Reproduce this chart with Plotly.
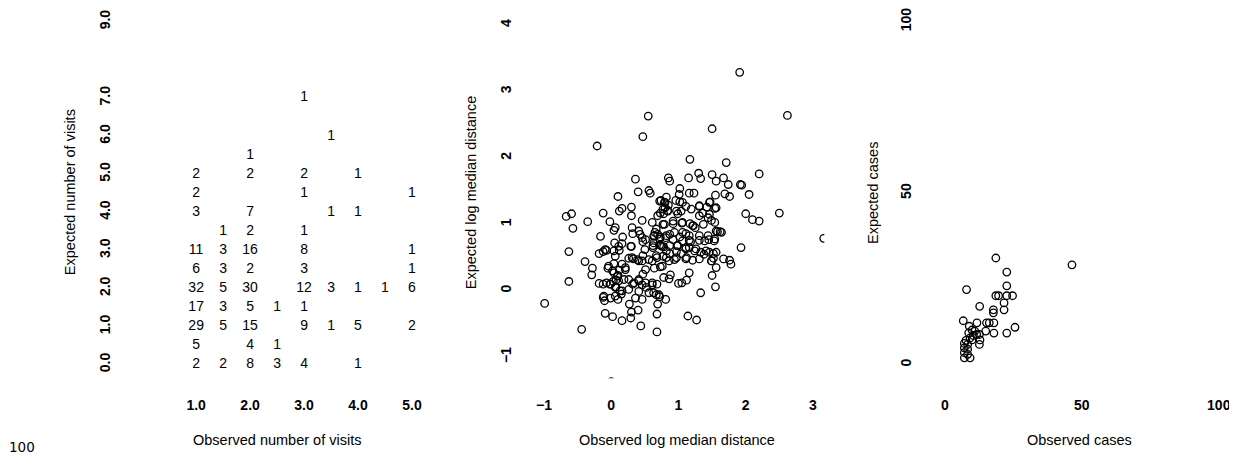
import plotly.graph_objects as go

# page is offset by the 8px body margin of the html page
OFF = 8
W, H = 1229, 454

# ---------------- Panel 1: counts of observed vs expected visits ----------------
visits_obs = [3, 3.5, 2,
              1, 2, 3, 4,
              1, 3, 5,
              1, 2, 3.5, 4,
              1.5, 2, 3,
              1, 1.5, 2, 3, 5,
              1, 1.5, 2, 3, 5,
              1, 1.5, 2, 3, 3.5, 4, 4.5, 5,
              1, 1.5, 2, 2.5, 3,
              1, 1.5, 2, 3, 3.5, 4, 5,
              1, 2, 2.5,
              1, 1.5, 2, 2.5, 3, 4]
visits_exp = [7.0, 6.0, 5.5,
              5.0, 5.0, 5.0, 5.0,
              4.5, 4.5, 4.5,
              4.0, 4.0, 4.0, 4.0,
              3.5, 3.5, 3.5,
              3.0, 3.0, 3.0, 3.0, 3.0,
              2.5, 2.5, 2.5, 2.5, 2.5,
              2.0, 2.0, 2.0, 2.0, 2.0, 2.0, 2.0, 2.0,
              1.5, 1.5, 1.5, 1.5, 1.5,
              1.0, 1.0, 1.0, 1.0, 1.0, 1.0, 1.0,
              0.5, 0.5, 0.5,
              0.0, 0.0, 0.0, 0.0, 0.0, 0.0]
visits_count = [1, 1, 1,
                2, 2, 2, 1,
                2, 1, 1,
                3, 7, 1, 1,
                1, 2, 1,
                11, 3, 16, 8, 1,
                6, 3, 2, 3, 1,
                32, 5, 30, 12, 3, 1, 1, 6,
                17, 3, 5, 1, 1,
                29, 5, 15, 9, 1, 5, 2,
                5, 4, 1,
                2, 2, 8, 3, 4, 1]
visits_xticks = [1, 2, 3, 4, 5]
visits_xlabels = ["1.0", "2.0", "3.0", "4.0", "5.0"]
visits_yticks = [0, 1, 2, 3, 4, 5, 6, 7, 9]
visits_ylabels = ["0.0", "1.0", "2.0", "3.0", "4.0", "5.0", "6.0", "7.0", "9.0"]

# ---------------- Panel 2: log median distance ----------------
dist_obs = [
    1.91, 2.62, 0.55, 1.50, 0.47, -0.21, 1.17, 1.71, 2.20, 1.30, 1.33, 1.50, 1.67, 1.56,
    1.74, 1.92, 1.94, 0.36, 0.85, 1.15, 2.05, 1.76, 1.69, -0.67, -0.59, -0.57, -0.35,
    2.00, 2.10, 2.20, 2.50, 1.62, 1.64, 3.16, 1.93, -0.63, -0.39, -0.63, -0.99, -0.09,
    0.02, 0.16, 0.29, 0.44, -0.44, 0.30, 0.40, 0.68, 0.69, 1.14, 1.27, 0.68, 1.67, 1.76,
    1.78, 1.56, 0.00,
    0.56, 0.58, 0.40, 0.10, 0.87, 1.02, 1.01, 1.16, 1.23, 1.55, 0.82, 0.74, 0.80, 0.85,
    0.80, 0.84, 0.96, 1.02, 1.11, 1.31, 1.42, 1.47, 1.54, 1.36, 1.46, 0.99, 1.04, 0.78,
    0.73, 0.16, 0.12, 0.30, 0.30, -0.12, -0.02, 0.04, 0.06, 0.17, -0.16, 0.46, 0.61,
    0.79, 0.92, 1.05, 1.17, 1.22, 1.25, 1.37, 1.58, 0.31, 0.32, 0.41, 0.43, 0.47, 0.51,
    0.65, 0.69, 0.73, 0.81, 0.87, 0.92, 1.02, 1.11, 1.06, 0.98, 1.16, 1.18, 1.31, 1.39,
    1.45, 1.53, 1.56, 1.49, 0.63, 0.62, 0.72, 0.78, 0.82, 0.87, 0.97, 1.04, 1.11, 1.16,
    1.24, 1.33, 1.38, 1.46, 1.52, 1.49, 1.52, 1.21, 1.12, 0.77, 0.86, 0.94, 0.73, 0.64,
    0.61, 0.50, 0.47, 0.41, 0.33, 0.26, 0.30, 0.16, 0.11, 0.05, 0.04, 0.12, 0.06, -0.07,
    -0.12, -0.18, -0.28, -0.29, -0.05, 0.02, 0.04, 0.16, 0.21, 0.12, 0.10, 0.07, 0.03,
    -0.02, -0.07, -0.12, -0.18, 0.07, 0.13, 0.15, 0.06, 0.10, -0.12, -0.10, 0.27, 0.32,
    0.41, 0.46, 0.52, 0.61, 0.63, 0.67, 0.72, 0.81, 0.78, 0.86, 0.88, 1.00, 1.05, 1.12,
    1.16, 1.33, 1.55, 1.50, 0.47, 0.51,
    0.21, 0.04, 0.09, 0.11, 0.19, 0.26, 0.34, 0.41, 0.51, 0.61, 0.68, 0.26, 0.16, 0.06,
    -0.01, -0.11, -0.01, 0.41, 0.56, 0.71, 0.36, 0.46, 0.31, 0.39, 0.46, 0.56, 0.68, 0.76,
    0.29, 0.46, 0.63, 0.76, -0.04, -0.09,
    0.72, 0.79, 0.77, 0.84, 0.69, 0.97, 1.06, 1.19, 1.31, 1.46, 1.56, 1.31, 1.44, 1.54,
    1.21, 1.06, 0.92, 0.77, 0.67, 0.64, 0.72, 0.82, 0.94, 1.06, 1.16, 1.31, 1.44, 1.54,
    0.62, 0.74, 0.87, 0.99, 1.11, 1.26, 1.41, 1.56, 0.67, 0.82, 0.97, 1.11, 1.31, 1.49]
dist_exp = [
    3.29, 2.64, 2.63, 2.44, 2.32, 2.18, 1.98, 1.93, 1.76, 1.77, 1.69, 1.75, 1.70, 1.65,
    1.60, 1.60, 1.59, 1.68, 1.70, 1.70, 1.45, 1.42, 1.46, 1.12, 1.16, 0.94, 1.04,
    1.16, 1.07, 1.05, 1.17, 0.89, 0.88, 0.79, 0.65, 0.59, 0.44, 0.14, -0.19, -0.34,
    -0.39, -0.45, -0.41, -0.53, -0.58, -0.32, -0.29, -0.35, -0.20, -0.38, -0.44, -0.62, 0.48, 0.46,
    0.40, 0.35, -1.37,
    1.51, 1.47, 1.49, 1.42, 1.65, 1.54, 1.45, 1.47, 1.47, 1.44, 1.41, 1.36, 1.33, 1.29,
    1.25, 1.21, 1.36, 1.34, 1.27, 1.27, 1.26, 1.34, 1.24, 1.17, 1.15, 1.16, 1.20, 1.16,
    1.17, 1.24, 1.20, 1.26, 1.13, 1.17, 1.04, 0.91, 0.95, 0.81, 0.82, 1.06, 1.03,
    1.00, 1.01, 1.02, 1.01, 0.98, 0.95, 1.00, 0.89, 0.95, 0.86, 0.90, 0.85, 0.74, 0.77,
    0.88, 0.85, 0.81, 0.80, 0.85, 0.77, 0.81, 0.86, 0.75, 0.68, 0.76, 0.74, 0.76, 0.75,
    0.77, 0.75, 0.90, 1.06, 0.72, 0.65, 0.69, 0.66, 0.60, 0.56, 0.59, 0.56, 0.63, 0.65,
    0.60, 0.58, 0.55, 0.58, 0.56, 0.45, 0.49, 0.46, 0.50, 0.52, 0.45, 0.47, 0.36, 0.34,
    0.45, 0.62, 0.53, 0.45, 0.48, 0.49, 0.67, 0.71, 0.67, 0.72, 0.60, 0.61, 0.52, 0.61,
    0.59, 0.56, 0.34, 0.24, 0.34, 0.30, 0.41, 0.40, 0.35, 0.31, 0.23, 0.16, 0.14,
    0.10, 0.12, 0.10, 0.11, 0.06, 0.00, -0.05, -0.08, -0.13, -0.10, -0.15, -0.20, 0.10,
    0.15, 0.09, 0.05, 0.09, -0.03, -0.06, -0.09, -0.13, 0.20, 0.18, 0.24, 0.11, 0.12, 0.16,
    0.27, -0.03, 0.06, 0.23, 0.25, 0.32,
    0.32, 0.27, 0.22, 0.15, 0.17, 0.17, 0.12, 0.17, 0.12, 0.12, 0.10, 0.02, 0.00, 0.05,
    0.10, -0.08, -0.11, -0.01, -0.03, -0.06, -0.11, -0.13, 0.50, 0.47, 0.45, 0.47, 0.50, 0.37,
    0.67, 0.80, 0.82, 0.67, 0.37, 0.62,
    1.35, 1.33, 1.23, 1.20, 1.13, 1.20, 1.33, 1.23, 1.28, 1.33, 1.25, 1.13, 1.10, 1.03,
    0.98, 1.03, 1.05, 1.00, 0.93, 0.83, 0.78, 0.83, 0.88, 0.88, 0.83, 0.83, 0.83, 0.78,
    0.68, 0.68, 0.68, 0.68, 0.65, 0.63, 0.60, 0.58, 0.53, 0.50, 0.50, 0.48, 0.48, 0.45]
dist_xticks = [-1, 0, 1, 2, 3]
dist_xlabels = ["\u22121", "0", "1", "2", "3"]
dist_yticks = [-1, 0, 1, 2, 3, 4]
dist_ylabels = ["\u22121", "0", "1", "2", "3", "4"]

# ---------------- Panel 3: cases ----------------
cases_obs = [18.6, 46.4, 22.6, 22.6, 7.9, 18.6, 19.6, 22.6, 24.7, 21.6, 21.6, 12.7, 17.7,
             17.7, 6.7, 11.7, 15.2, 16.2, 17.9, 25.6, 22.6, 17.9, 14.9, 8.9, 9.9, 10.9,
             11.6, 12.6, 12.8, 12.6, 9.9, 9.2, 8.7, 7.1, 7.1, 7.1, 7.1, 8.3, 8.3, 8.3,
             9.2, 7.7, 10.4]
cases_exp = [31.1, 29.1, 27.0, 23.0, 21.9, 20.1, 20.1, 20.1, 20.1, 18.0, 16.0, 17.0, 16.0,
             15.1, 12.8, 12.2, 12.2, 12.2, 12.2, 10.9, 9.2, 9.2, 9.8, 11.2, 10.1, 9.8,
             8.8, 8.8, 7.2, 5.9, 7.2, 7.8, 9.3, 6.2, 4.9, 3.5, 2.0, 5.9, 4.5, 3.0,
             2.0, 7.1, 8.5]
cases_ticks = [0, 50, 100]
cases_labels = ["0", "50", "100"]

FONT = "Liberation Sans, Arial, Helvetica, sans-serif"


def px_x(p):
    return (p - OFF) / W


def px_y(p):
    return (H - (p - OFF)) / H


# plot-area geometry in page pixels (left, right) ; all panels share top/bottom
Y_TOP, Y_BOT = 8, 378
panels = [(131.5, 423.1), (530.3, 825.0), (934.7, 1230.7)]

fig = go.Figure()

fig.add_trace(go.Scatter(
    x=visits_obs, y=visits_exp, text=[str(c) for c in visits_count],
    mode="text", textposition="middle center",
    textfont=dict(family=FONT, size=14, color="black"),
    xaxis="x", yaxis="y", showlegend=False, hoverinfo="skip", cliponaxis=False))

marker = dict(symbol="circle-open", size=7.5, color="black", line=dict(width=1.3, color="black"))
fig.add_trace(go.Scatter(x=dist_obs, y=dist_exp, mode="markers", marker=marker,
                         xaxis="x2", yaxis="y2", showlegend=False, cliponaxis=True))
fig.add_trace(go.Scatter(x=cases_obs, y=cases_exp, mode="markers", marker=marker,
                         xaxis="x3", yaxis="y3", showlegend=False, cliponaxis=True))

tickfont = dict(family=FONT, size=14, color="black", weight="bold")


def xaxis(i, rng, tv, tt, anchor):
    L, R = panels[i]
    return dict(domain=[px_x(L), px_x(R)], range=rng, tickvals=tv, ticktext=tt,
                showgrid=False, zeroline=False, showline=False, ticks="",
                tickfont=tickfont, anchor=anchor, ticklabelstandoff=17,
                ticklabeloverflow="allow", fixedrange=True)


def yaxis(rng, tv, tt, anchor, standoff):
    return dict(domain=[px_y(Y_BOT), px_y(Y_TOP)], range=rng, tickvals=tv, ticktext=tt,
                showgrid=False, zeroline=False, showline=False, ticks="",
                tickfont=tickfont, tickangle=-90, anchor=anchor,
                ticklabelstandoff=standoff, ticklabeloverflow="allow", fixedrange=True)


fig.update_layout(
    width=W, height=H, margin=dict(l=0, r=0, t=0, b=0),
    paper_bgcolor="white", plot_bgcolor="white", showlegend=False,
    xaxis=xaxis(0, [-0.2, 5.2], visits_xticks, visits_xlabels, "y"),
    yaxis=yaxis([-0.36, 9.307], visits_yticks, visits_ylabels, "x", 18),
    xaxis2=xaxis(1, [-1.21, 3.169], dist_xticks, dist_xlabels, "y2"),
    yaxis2=yaxis([-1.319, 4.228], dist_yticks, dist_ylabels, "x2", 15),
    xaxis3=xaxis(2, [-4, 104], cases_ticks, cases_labels, "y3"),
    yaxis3=yaxis([-4, 103.42], cases_ticks, cases_labels, "x3", 19),
)

title_font = dict(family=FONT, size=14.5, color="black")
annots = [
    ("Observed number of visits", 277.5, 440, 0),
    ("Observed log median distance", 678, 440, 0),
    ("Observed cases", 1080, 440, 0),
    ("Expected number of visits", 70, 191, -90),
    ("Expected log median distance", 471.7, 191.7, -90),
    ("Expected cases", 873, 191.5, -90),
]
for txt, x, y, ang in annots:
    fig.add_annotation(text=txt, x=px_x(x), y=px_y(y), xref="paper", yref="paper",
                       xanchor="center", yanchor="middle", showarrow=False,
                       textangle=ang, font=title_font)

fig.add_annotation(text="100", x=px_x(22), y=px_y(446.7), xref="paper", yref="paper",
                   xanchor="center", yanchor="middle", showarrow=False,
                   font=dict(family="DejaVu Sans", size=13.5, color="black"))

fig.write_html("out.html", config={"displayModeBar": False})
